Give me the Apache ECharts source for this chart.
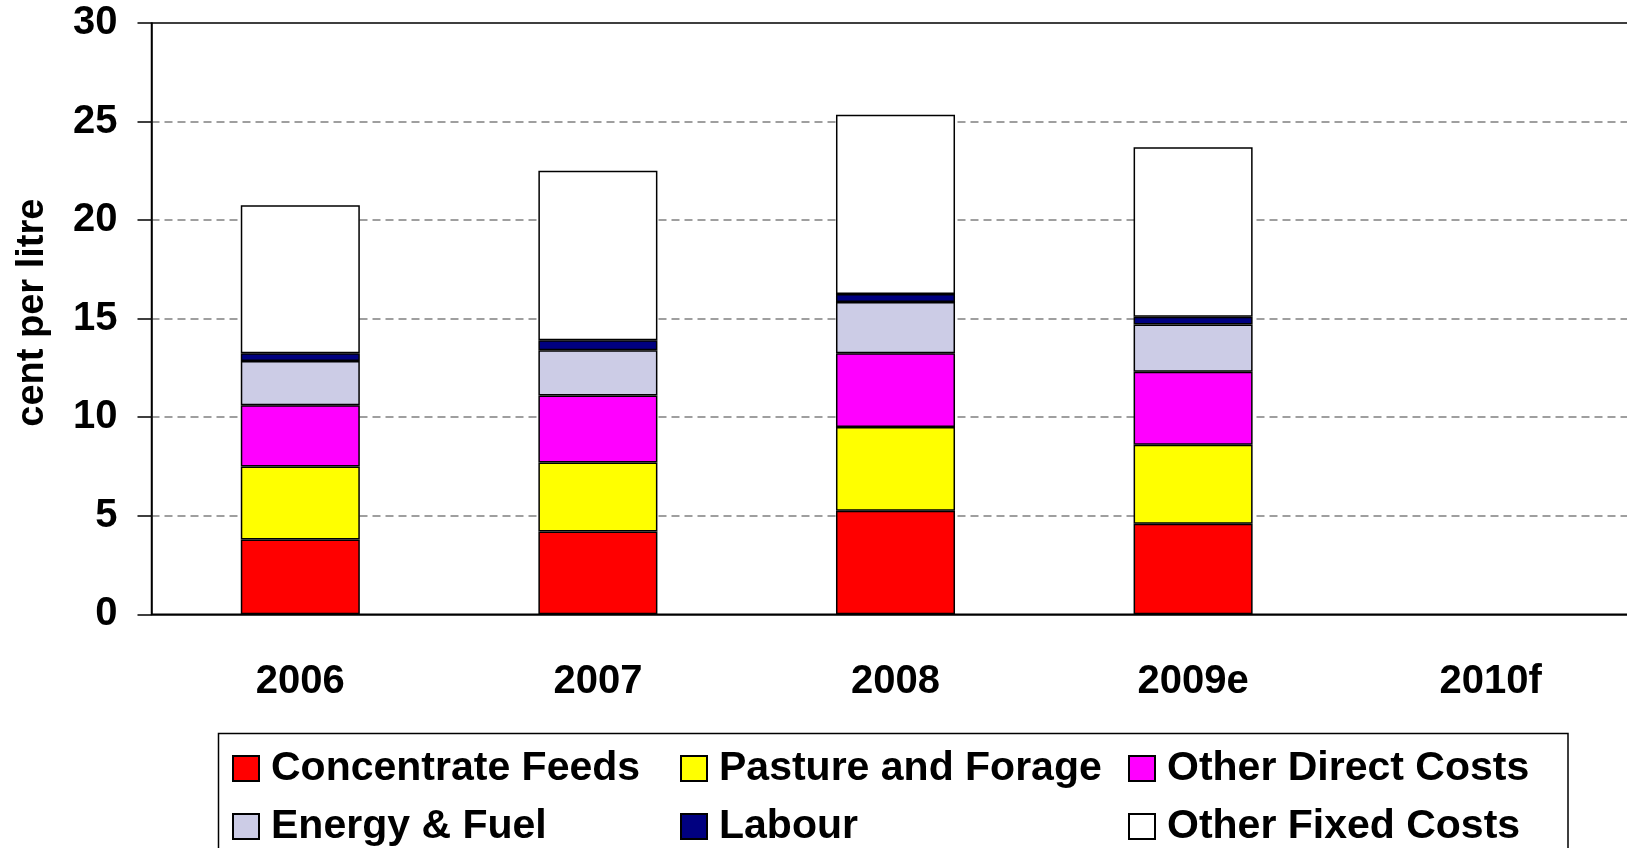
<!DOCTYPE html>
<html>
<head>
<meta charset="utf-8">
<script src="https://cdn.jsdelivr.net/npm/echarts@6/dist/echarts.min.js"></script>
<style>
  html, body { margin: 0; padding: 0; background: #fff; }
  #chart { width: 1627px; height: 848px; }
</style>
</head>
<body>
<div id="chart"></div>
<script>
const categories = ["2006", "2007", "2008", "2009e", "2010f"];
const concentrateFeeds = [3.8, 4.2, 5.25, 4.6, null];
const pastureForage = [3.7, 3.5, 4.25, 4.0, null];
const otherDirectCosts = [3.1, 3.4, 3.75, 3.7, null];
const energyFuel = [2.25, 2.3, 2.6, 2.4, null];
const labour = [0.4, 0.5, 0.4, 0.4, null];
const otherFixedCosts = [7.5, 8.6, 9.1, 8.6, null];

const FONT = "'Liberation Sans', Arial, sans-serif";

const barSeries = (name, data, color) => ({
  name,
  type: "bar",
  stack: "cost",
  data,
  barWidth: "40%",
  itemStyle: { color, borderColor: "#000", borderWidth: 1.5 },
});

const chart = echarts.init(document.getElementById("chart"));

chart.setOption({
  animation: false,
  backgroundColor: "#fff",
  // plot runs past the right edge of the picture, as in the source image
  grid: {
    show: true,
    left: 151.5,
    width: 1488,
    top: 23,
    bottom: 233.7,
    outerBoundsMode: "none",
    containLabel: false,
    borderColor: "#000",
    borderWidth: 1.5,
    backgroundColor: "transparent",
  },
  graphic: [
    {
      type: "rect",
      shape: { x: 218.5, y: 733.5, width: 1349.5, height: 140 },
      style: { fill: "none", stroke: "#000", lineWidth: 1.5 },
      z: 1,
    },
  ],
  legend: {
    left: 232,
    top: 748,
    padding: 0,
    width: 1340,
    itemWidth: 26,
    itemHeight: 25,
    itemGap: 17,
    icon: "rect",
    textStyle: {
      fontFamily: FONT,
      fontWeight: "bold",
      fontSize: 41,
      color: "#000",
      width: 392,
      lineHeight: 34,
      padding: [0, 0, 0, 7],
    },
  },
  xAxis: {
    type: "category",
    data: categories,
    axisLine: { lineStyle: { color: "#000", width: 1.5 } },
    axisTick: { length: 13, lineStyle: { color: "#000", width: 1.5 } },
    axisLabel: {
      margin: 48,
      color: "#000",
      fontFamily: FONT,
      fontWeight: "bold",
      fontSize: 40,
    },
  },
  yAxis: {
    type: "value",
    min: 0,
    max: 30,
    interval: 5,
    name: "cent per litre",
    nameLocation: "middle",
    nameGap: 100,
    nameTextStyle: {
      color: "#000",
      fontFamily: FONT,
      fontWeight: "bold",
      fontSize: 38,
      padding: [0, 0, 0, 12],
    },
    axisLine: { show: true, lineStyle: { color: "#000", width: 1.5 } },
    axisTick: { show: true, length: 14, lineStyle: { color: "#000", width: 1.5 } },
    axisLabel: {
      margin: 34,
      color: "#000",
      fontFamily: FONT,
      fontWeight: "bold",
      fontSize: 40,
    },
    splitLine: {
      show: true,
      showMinLine: false,
      showMaxLine: false,
      lineStyle: { color: "#808080", width: 1.5, type: [8, 5] },
    },
  },
  series: [
    barSeries("Concentrate Feeds", concentrateFeeds, "#ff0000"),
    barSeries("Pasture and Forage", pastureForage, "#ffff00"),
    barSeries("Other Direct Costs", otherDirectCosts, "#ff00ff"),
    barSeries("Energy & Fuel", energyFuel, "#ccccE6"),
    barSeries("Labour", labour, "#000080"),
    barSeries("Other Fixed Costs", otherFixedCosts, "#ffffff"),
  ],
});
</script>
</body>
</html>
